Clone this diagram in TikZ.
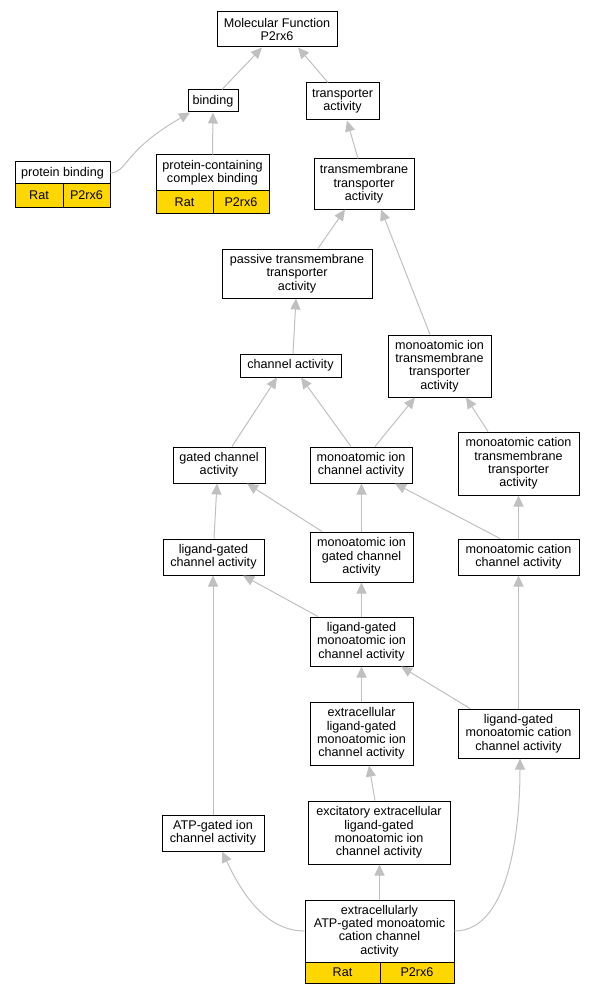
\documentclass[tikz,border=0pt]{standalone}
\usepackage{fontspec}
\setmainfont{Liberation Sans}
\usetikzlibrary{arrows.meta}
\definecolor{gogold}{HTML}{FFD700}
\definecolor{isagray}{HTML}{C0C0C0}

\begin{document}
\begin{tikzpicture}[x=1pt,y=-1pt,
  every node/.style={font=\fontsize{12.6}{13.3}\selectfont,align=center,inner sep=0pt},
  term/.style 2 args={draw,line width=1pt,fill=white,minimum width=#1,minimum height=#2},
  cell/.style 2 args={draw,line width=1pt,fill=gogold,minimum width=#1,minimum height=#2},
  isa/.style={draw=isagray,line width=1pt,-{Triangle[length=11pt,width=10pt]}}]
  \useasboundingbox (0,0) rectangle (595,995);
  % terms
  \path (277,29.5) node[term={120}{35}] (mf) {Molecular Function\\P2rx6}
  (213,101) node[term={50}{22}] (bind) {binding}
  (342.5,101.5) node[term={73}{37}] (trans) {transporter\\activity}
  (62.5,173) node[term={95}{22}] (pb) {protein binding}
  (212.5,173) node[term={113}{36}] (pccb) {protein-containing\\complex binding}
  (364,184) node[term={100}{50}] (tmt) {transmembrane\\transporter\\activity}
  (297,273.5) node[term={150}{49}] (ptmt) {passive transmembrane\\transporter\\activity}
  (290.5,365.5) node[term={101}{23}] (chan) {channel activity}
  (439.5,366) node[term={103}{62}] (mitmt) {monoatomic ion\\transmembrane\\transporter\\activity}
  (219,465) node[term={92}{36}] (gchan) {gated channel\\activity}
  (361,465) node[term={102}{36}] (michan) {monoatomic ion\\channel activity}
  (518.5,463.5) node[term={121}{63}] (mctmt) {monoatomic cation\\transmembrane\\transporter\\activity}
  (213.5,557) node[term={101}{36}] (lgchan) {ligand-gated\\channel activity}
  (361.5,557) node[term={103}{50}] (migchan) {monoatomic ion\\gated channel\\activity}
  (518.5,557) node[term={121}{36}] (mcchan) {monoatomic cation\\channel activity}
  (361.5,641.5) node[term={103}{49}] (lgmichan) {ligand-gated\\monoatomic ion\\channel activity}
  (361.5,733.5) node[term={103}{63}] (elgmichan) {extracellular\\ligand-gated\\monoatomic ion\\channel activity}
  (518.5,733.5) node[term={121}{49}] (lgmcchan) {ligand-gated\\monoatomic cation\\channel activity}
  (213,833) node[term={102}{36}] (atpchan) {ATP-gated ion\\channel activity}
  (379,832.5) node[term={142}{63}] (exchan) {excitatory extracellular\\ligand-gated\\monoatomic ion\\channel activity}
  (379.5,931) node[term={149}{62}] (eatp) {extracellularly\\ATP-gated monoatomic\\cation channel\\activity};
  % annotation rows
  \path (39,195.5) node[cell={48}{23}] (pbrat) {Rat}
  (86.5,195.5) node[cell={47}{23}] (pbgene) {P2rx6}
  (184.5,202) node[cell={57}{22}] (pccbrat) {Rat}
  (241,202) node[cell={56}{22}] (pccbgene) {P2rx6}
  (342.5,972.5) node[cell={75}{21}] (eatprat) {Rat}
  (417,972.5) node[cell={74}{21}] (eatpgene) {P2rx6};
  % is_a edges
  \draw[isa] ([xshift=9pt]bind.north) -- ([xshift=-15pt]mf.south);
  \draw[isa] ([xshift=-14.5pt]trans.north) -- ([xshift=21pt]mf.south);
  \draw[isa] (pb.east) .. controls (128,172) and (122,152) .. ([xshift=-23pt]bind.south);
  \draw[isa] (pccb.north) -- (bind.south);
  \draw[isa] ([xshift=-6pt]tmt.north) -- ([xshift=4.5pt]trans.south);
  \draw[isa] ([xshift=21pt]ptmt.north) -- ([xshift=-19pt]tmt.south);
  \draw[isa] ([xshift=-9.5pt]mitmt.north) -- ([xshift=17pt]tmt.south);
  \draw[isa] ([xshift=2.5pt]chan.north) -- ([xshift=-1pt]ptmt.south);
  \draw[isa] ([xshift=13pt]gchan.north) -- ([xshift=-13.5pt]chan.south);
  \draw[isa] ([xshift=-10pt]michan.north) -- ([xshift=10.5pt]chan.south);
  \draw[isa] ([xshift=14pt]michan.north) -- ([xshift=-24.5pt]mitmt.south);
  \draw[isa] ([xshift=-30.5pt]mctmt.north) -- ([xshift=26.5pt]mitmt.south);
  \draw[isa] ([xshift=0.5pt]lgchan.north) -- ([xshift=-2pt]gchan.south);
  \draw[isa] ([xshift=-39.5pt]migchan.north) -- ([xshift=28pt]gchan.south);
  \draw[isa] (migchan.north) -- ([xshift=0.5pt]michan.south);
  \draw[isa] ([xshift=-18.5pt]mcchan.north) -- ([xshift=34pt]michan.south);
  \draw[isa] (mcchan.north) -- (mctmt.south);
  \draw[isa] ([xshift=-43.5pt]lgmichan.north) -- ([xshift=29.5pt]lgchan.south);
  \draw[isa] (lgmichan.north) -- (migchan.south);
  \draw[isa] (elgmichan.north) -- (lgmichan.south);
  \draw[isa] ([xshift=-48.5pt]lgmcchan.north) -- ([xshift=39.5pt]lgmichan.south);
  \draw[isa] (lgmcchan.north) -- (mcchan.south);
  \draw[isa] (atpchan.north) -- ([xshift=-0.5pt]lgchan.south);
  \draw[isa] ([xshift=-4pt]exchan.north) -- ([xshift=7.5pt]elgmichan.south);
  \draw[isa] (eatp.north) -- ([xshift=0.5pt]exchan.south);
  \draw[isa] (eatp.west) .. controls (262,931) and (238,885) .. ([xshift=9pt]atpchan.south);
  \draw[isa] (eatp.east) .. controls (512,931) and (520,820) .. ([xshift=1.5pt]lgmcchan.south);
\end{tikzpicture}
\end{document}
